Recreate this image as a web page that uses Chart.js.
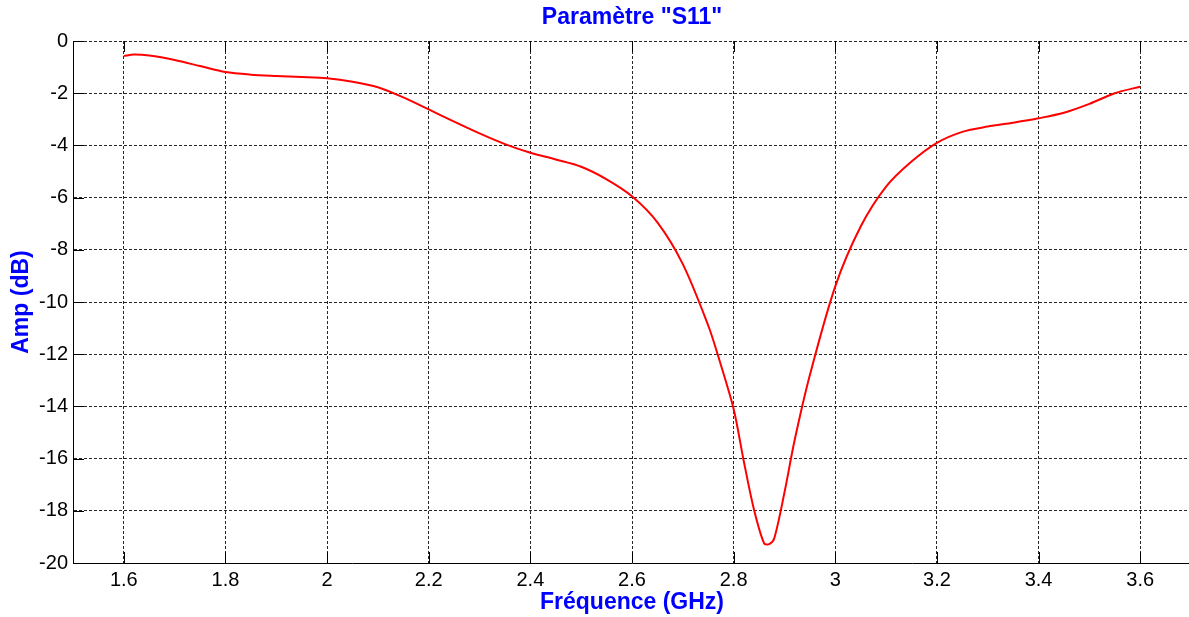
<!DOCTYPE html>
<html>
<head>
<meta charset="utf-8">
<script src="https://cdn.jsdelivr.net/npm/chart.js@4"></script>
<style>
  html, body { margin: 0; padding: 0; background: #fff; overflow: hidden; }
  #wrap { width: 1192px; height: 617px; }
</style>
</head>
<body>
<div id="wrap"><canvas id="chart" width="1192" height="617"></canvas></div>
<script>
// S11 sweep, frequency in GHz, amplitude in dB
const freq = [1.6, 1.62, 1.65, 1.7, 1.75, 1.8, 1.85, 1.9, 1.95, 2.0, 2.05, 2.1, 2.15, 2.2,
  2.25, 2.3, 2.35, 2.4, 2.45, 2.5, 2.55, 2.6, 2.65, 2.7, 2.75, 2.77, 2.8, 2.82, 2.84,
  2.86, 2.87, 2.88, 2.9, 2.92, 2.95, 3.0, 3.05, 3.1, 3.15, 3.2, 3.25, 3.3, 3.35, 3.4,
  3.45, 3.5, 3.55, 3.6];
const s11 = [-0.57, -0.52, -0.56, -0.73, -0.96, -1.19, -1.29, -1.34, -1.38, -1.43, -1.56,
  -1.77, -2.16, -2.62, -3.09, -3.54, -3.95, -4.28, -4.54, -4.82, -5.3, -5.95, -6.95,
  -8.55, -10.9, -12.1, -14.1, -16.1, -17.95, -19.25, -19.28, -19.05, -17.3, -15.3,
  -12.8, -9.4, -7.11, -5.58, -4.62, -3.9, -3.48, -3.28, -3.13, -2.96, -2.75, -2.41,
  -2.0, -1.75];
const xTicks = [1.6, 1.8, 2.0, 2.2, 2.4, 2.6, 2.8, 3.0, 3.2, 3.4, 3.6];
const yTicks = [0, -2, -4, -6, -8, -10, -12, -14, -16, -18, -20];

const BLUE = '#0000ff';
const FONT = "Arial, 'Liberation Sans', sans-serif";

// short solid tick marks pointing into the plot, like the old matlab axes
const innerTicks = {
  id: 'innerTicks',
  afterDraw(chart) {
    const { ctx, chartArea: a, scales: { x, y } } = chart;
    const len = 11;
    ctx.save();
    ctx.strokeStyle = '#000';
    ctx.lineWidth = 1;
    ctx.beginPath();
    x.ticks.forEach(t => {
      const px = Math.round(x.getPixelForValue(t.value)) + 0.5;
      ctx.moveTo(px, a.bottom);
      ctx.lineTo(px, a.bottom - len);
      ctx.moveTo(px, a.top);
      ctx.lineTo(px, a.top + len);
    });
    y.ticks.forEach(t => {
      const py = Math.round(y.getPixelForValue(t.value)) + 0.5;
      ctx.moveTo(a.left, py);
      ctx.lineTo(a.left + len, py);
    });
    ctx.stroke();
    ctx.restore();
  }
};

const gridStyle = { color: 'rgba(0,0,0,0.85)', lineWidth: 1, drawTicks: false };
const borderStyle = { display: true, color: '#000', width: 1, dash: [3, 2] };

new Chart(document.getElementById('chart'), {
  type: 'line',
  data: {
    datasets: [{
      data: freq.map((f, i) => ({ x: f, y: s11[i] })),
      borderColor: '#ff0000',
      borderWidth: 2,
      pointRadius: 0,
      tension: 0.3,
      fill: false,
    }],
  },
  plugins: [innerTicks],
  options: {
    responsive: false,
    animation: false,
    devicePixelRatio: 1,
    layout: { padding: { left: 0, right: 1, top: 0, bottom: 0 } },
    events: [],
    scales: {
      x: {
        type: 'linear',
        min: 1.5,
        max: 3.7,
        grid: gridStyle,
        border: borderStyle,
        afterBuildTicks: s => { s.ticks = xTicks.map(v => ({ value: v })); },
        afterFit: s => { s.height = 54; },
        ticks: {
          color: '#000',
          padding: 5,
          maxRotation: 0,
          font: { family: FONT, size: 20 },
          callback: v => String(+(+v).toFixed(1)),
        },
        title: {
          display: true,
          text: 'Fréquence (GHz)',
          color: BLUE,
          font: { family: FONT, size: 23, weight: 'bold', lineHeight: 1 },
          padding: { top: 0, bottom: 3 },
        },
      },
      y: {
        min: -20,
        max: 0,
        grid: gridStyle,
        border: borderStyle,
        afterBuildTicks: s => { s.ticks = yTicks.map(v => ({ value: v })); },
        afterFit: s => { s.width = 73; },
        ticks: {
          color: '#000',
          padding: 5,
          font: { family: FONT, size: 20 },
          callback: v => String(v),
        },
        title: {
          display: true,
          text: 'Amp (dB)',
          color: BLUE,
          font: { family: FONT, size: 23, weight: 'bold', lineHeight: 1 },
          padding: { top: 10, bottom: 0 },
        },
      },
    },
    plugins: {
      legend: { display: false },
      tooltip: { enabled: false },
      title: {
        display: true,
        fullSize: false,
        text: 'Paramètre "S11"',
        color: BLUE,
        font: { family: FONT, size: 23, weight: 'bold', lineHeight: 1 },
        padding: { top: 6, bottom: 12 },
      },
    },
  },
});
</script>
</body>
</html>
